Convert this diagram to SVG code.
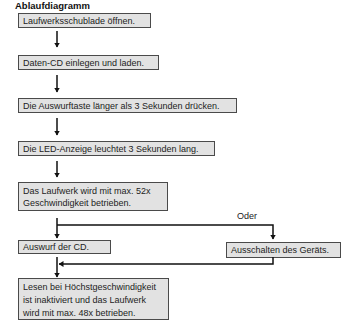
<svg xmlns="http://www.w3.org/2000/svg" width="347" height="320" viewBox="0 0 347 320">
<style>
.box{fill:#e2e2e2;stroke:#4a4a4a;stroke-width:1}
.t{font-family:"Liberation Sans",Arial,sans-serif;font-size:9px;fill:#222}
.ln{stroke:#111;stroke-width:1.5;fill:none}
.title{font-family:"Liberation Sans",Arial,sans-serif;font-size:9.5px;font-weight:bold;fill:#111}
</style>
<defs>
<marker id="ah" viewBox="0 0 10 10" refX="9" refY="5" markerWidth="5" markerHeight="6" markerUnits="userSpaceOnUse" orient="auto-start-reverse" preserveAspectRatio="none">
<path d="M0,0 L10,5 L0,10 Z" fill="#111"/>
</marker>
</defs>
<rect width="347" height="320" fill="#fff"/>
<text class="title" x="15" y="8.5">Ablaufdiagramm</text>
<g id="n1"><rect class="box" x="18.5" y="13.5" width="132" height="14"/><text class="t" x="23" y="24">Laufwerksschublade öffnen.</text></g>
<g id="n2"><rect class="box" x="18.5" y="55.5" width="140" height="14"/><text class="t" x="23" y="66">Daten-CD einlegen und laden.</text></g>
<g id="n3"><rect class="box" x="18.5" y="98.5" width="218" height="14"/><text class="t" x="23" y="109">Die Auswurftaste länger als 3 Sekunden drücken.</text></g>
<g id="n4"><rect class="box" x="18.5" y="141.5" width="196" height="14"/><text class="t" x="23" y="152">Die LED-Anzeige leuchtet 3 Sekunden lang.</text></g>
<g id="n5"><rect class="box" x="18.5" y="182.5" width="149" height="28"/><text class="t" x="23" y="194">Das Laufwerk wird mit max. 52x</text><text class="t" x="23" y="206">Geschwindigkeit betrieben.</text></g>
<g id="n6"><rect class="box" x="18.5" y="240.5" width="92" height="13"/><text class="t" x="23" y="250">Auswurf der CD.</text></g>
<g id="n7"><rect class="box" x="226.5" y="242.5" width="114" height="15"/><text class="t" x="231" y="253">Ausschalten des Geräts.</text></g>
<g id="n8"><rect class="box" x="18.5" y="278.5" width="150" height="41"/><text class="t" x="23" y="290">Lesen bei Höchstgeschwindigkeit</text><text class="t" x="23" y="303">ist inaktiviert und das Laufwerk</text><text class="t" x="23" y="316">wird mit max. 48x betrieben.</text></g>
<g id="connectors">
<line class="ln" x1="57" y1="31" x2="57" y2="47" marker-end="url(#ah)"/>
<line class="ln" x1="57" y1="75" x2="57" y2="92" marker-end="url(#ah)"/>
<line class="ln" x1="57" y1="118" x2="57" y2="135" marker-end="url(#ah)"/>
<line class="ln" x1="57" y1="161" x2="57" y2="177" marker-end="url(#ah)"/>
<line class="ln" x1="57" y1="218" x2="57" y2="238" marker-end="url(#ah)"/>
<polyline class="ln" points="57,225 273,225 273,239" marker-end="url(#ah)"/>
<text class="t" x="247" y="219" text-anchor="middle">Oder</text>
<polyline class="ln" points="273,257 273,264 59,264" marker-end="url(#ah)"/>
<line class="ln" x1="57" y1="257" x2="57" y2="277" marker-end="url(#ah)"/>
</g>
</svg>
